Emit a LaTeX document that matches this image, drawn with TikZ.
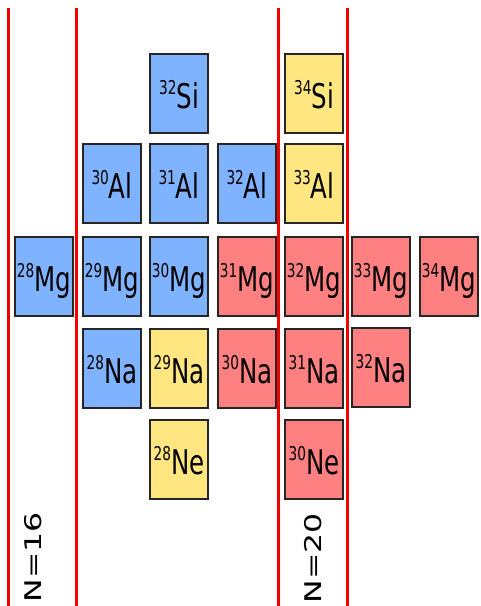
\documentclass[tikz,border=0pt]{standalone}
\usepackage{fontspec}
\setmainfont{DejaVu Sans}
\definecolor{nblue}{RGB}{128,179,255}
\definecolor{nred}{RGB}{255,128,128}
\definecolor{nyel}{RGB}{255,230,128}
\definecolor{nline}{RGB}{240,0,0}
\newcommand{\isolab}[2]{\scalebox{0.72}[1]{\raisebox{14pt}{\fontsize{19}{19}\selectfont #1}\fontsize{34}{34}\selectfont #2}}
\newcommand{\nlab}[1]{\scalebox{1.37}[1]{\fontsize{23}{23}\selectfont #1}}
\tikzset{
  isobox/.style={draw=black!85, line width=2pt, minimum width=58pt, minimum height=79pt,
    inner sep=0pt, text height=29pt, text depth=0pt, anchor=north west},
  bl/.style={isobox, fill=nblue},
  rd/.style={isobox, fill=nred},
  yl/.style={isobox, fill=nyel},
  shell/.style={draw=nline, line width=3pt},
  nlabel/.style={rotate=90, inner sep=0pt}
}
\begin{document}
\begin{tikzpicture}[x=1pt,y=-1pt]
\useasboundingbox (0,0) rectangle (481,606);
% shell lines
\coordinate (a1) at (8.5,8); \coordinate (a2) at (8.5,606);
\coordinate (b1) at (76,8); \coordinate (b2) at (76,606);
\coordinate (c1) at (278.5,8); \coordinate (c2) at (278.5,606);
\coordinate (d1) at (347,8); \coordinate (d2) at (347,606);
\draw[shell] (a1) -- (a2);
\draw[shell] (b1) -- (b2);
\draw[shell] (c1) -- (c2);
\draw[shell] (d1) -- (d2);
% Si row
\node[bl] (si32) at (149,53) {\isolab{32}{Si}};
\node[yl] (si34) at (284,53) {\isolab{34}{Si}};
% Al row
\node[bl] (al30) at (82,143) {\isolab{30}{Al}};
\node[bl] (al31) at (149,143) {\isolab{31}{Al}};
\node[bl] (al32) at (217,143) {\isolab{32}{Al}};
\node[yl] (al33) at (284,143) {\isolab{33}{Al}};
% Mg row
\node[bl] (mg28) at (14,236) {\isolab{28}{Mg}};
\node[bl] (mg29) at (82,236) {\isolab{29}{Mg}};
\node[bl] (mg30) at (149,236) {\isolab{30}{Mg}};
\node[rd] (mg31) at (217,236) {\isolab{31}{Mg}};
\node[rd] (mg32) at (284,236) {\isolab{32}{Mg}};
\node[rd] (mg33) at (351,236) {\isolab{33}{Mg}};
\node[rd] (mg34) at (419,236) {\isolab{34}{Mg}};
% Na row
\node[bl] (na28) at (82,328) {\isolab{28}{Na}};
\node[yl] (na29) at (149,328) {\isolab{29}{Na}};
\node[rd] (na30) at (217,328) {\isolab{30}{Na}};
\node[rd] (na31) at (284,328) {\isolab{31}{Na}};
\node[rd] (na32) at (351,327) {\isolab{32}{Na}};
% Ne row
\node[yl] (ne28) at (149,419) {\isolab{28}{Ne}};
\node[rd] (ne30) at (284,419) {\isolab{30}{Ne}};
% magic number labels
\node[nlabel] (n16) at (33.5,557) {\nlab{N=16}};
\node[nlabel] (n20) at (313,558) {\nlab{N=20}};
\end{tikzpicture}
\end{document}
